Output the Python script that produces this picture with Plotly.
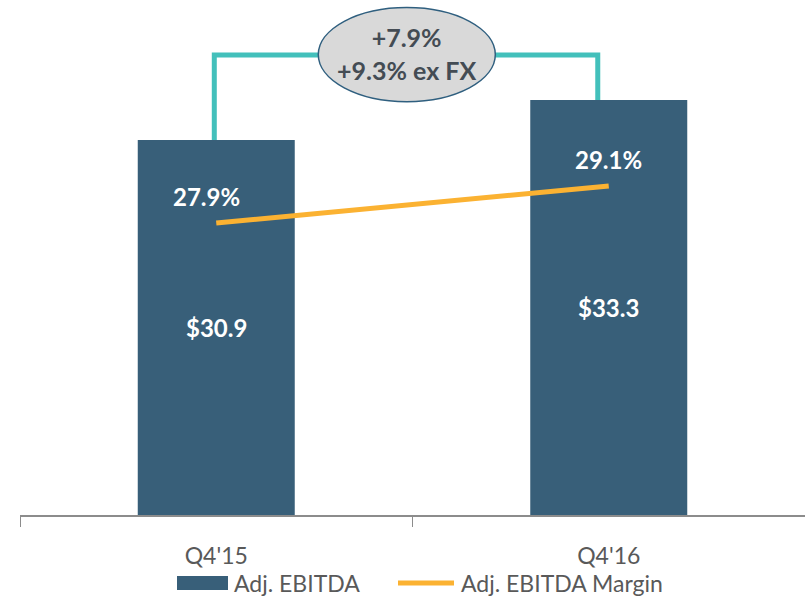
import plotly.graph_objects as go

# Quarterly figures
quarters = ["Q4'15", "Q4'16"]
adj_ebitda = [30.9, 33.3]          # $ millions
adj_ebitda_margin = [27.9, 29.1]   # percent
growth_text = ["+7.9%", "+9.3% ex FX"]
legend_labels = ["Adj. EBITDA", "Adj. EBITDA Margin"]

BAR_COLOR = "#385f79"
LINE_COLOR = "#fbb232"
BRACKET_COLOR = "#43c0bb"
TEXT_GREY = "#595959"
FONT = "Lato"

Y_RANGE = [8.4, 39.3]
Y2_RANGE = [18.42, 35.14]

fig = go.Figure()

fig.add_trace(go.Bar(
    x=quarters, y=adj_ebitda, name=legend_labels[0],
    marker=dict(color=BAR_COLOR, line=dict(width=0)),
    width=0.4, hoverinfo="skip", showlegend=False,
))

fig.add_trace(go.Scatter(
    x=quarters, y=adj_ebitda_margin, name=legend_labels[1],
    mode="lines", yaxis="y2",
    line=dict(color=LINE_COLOR, width=5),
    hoverinfo="skip", showlegend=False,
))

# Dollar labels centred in the visible part of each bar
for i, v in enumerate(adj_ebitda):
    fig.add_annotation(
        x=i, y=(Y_RANGE[0] + v) / 2, xref="x", yref="y", text=f"${v:.1f}",
        showarrow=False,
        font=dict(family=FONT, size=24, color="white", weight="bold"),
    )

# Margin labels above the line points
for i, m in enumerate(adj_ebitda_margin):
    fig.add_annotation(
        x=i, y=m, xref="x", yref="y2", text=f"{m:.1f}%",
        showarrow=False, yshift=27, xshift=-10 if i == 0 else 0,
        font=dict(family=FONT, size=24, color="white", weight="bold"),
    )

# Growth bracket connecting the two bars
bracket_top = 36.0
fig.add_shape(type="path",
              path=f"M -0.005,{adj_ebitda[0]} L -0.005,{bracket_top} L 0.972,{bracket_top} L 0.972,{adj_ebitda[1]}",
              xref="x", yref="y",
              line=dict(color=BRACKET_COLOR, width=5), layer="below")

# Growth bubble
fig.add_shape(type="circle", xref="x", yref="y",
              x0=0.26, x1=0.711, y0=33.2, y1=38.85,
              fillcolor="#d9d9d9", line=dict(color="#2f5f7f", width=1.5))
fig.add_annotation(
    x=0.4855, y=36.1, xref="x", yref="y",
    text="<br>".join(growth_text), showarrow=False,
    font=dict(family=FONT, size=25, color="#444c54", weight="bold"),
)

# Legend drawn in pixel-like paper coordinates below the axis
W, H = 805, 598
L, B = 20, 83
PW, PH = W - L, H - B


def px(xp):
    return (xp - L) / PW


def py(yp):
    return (H - B - yp) / PH


fig.add_shape(type="rect", xref="paper", yref="paper",
              x0=px(177), x1=px(228), y0=py(590), y1=py(576),
              fillcolor=BAR_COLOR, line=dict(width=0))
fig.add_annotation(x=px(232), y=py(583), xref="paper", yref="paper",
                   xanchor="left", yanchor="middle", showarrow=False,
                   text=legend_labels[0],
                   font=dict(family=FONT, size=23, color=TEXT_GREY))
fig.add_shape(type="line", xref="paper", yref="paper",
              x0=px(398), x1=px(454), y0=py(583), y1=py(583),
              line=dict(color=LINE_COLOR, width=5))
fig.add_annotation(x=px(459), y=py(583), xref="paper", yref="paper",
                   xanchor="left", yanchor="middle", showarrow=False,
                   text=legend_labels[1],
                   font=dict(family=FONT, size=23, color=TEXT_GREY))

fig.update_layout(
    width=W, height=H,
    margin=dict(l=L, r=0, t=0, b=B),
    paper_bgcolor="white", plot_bgcolor="white",
    font=dict(family=FONT, color=TEXT_GREY),
    showlegend=False,
    xaxis=dict(type="category", tickson="boundaries", ticks="outside", ticklen=10,
               tickcolor="#8c8c8c", showline=True, linecolor="#8c8c8c", linewidth=1.5,
               showgrid=False, tickfont=dict(family=FONT, size=23, color=TEXT_GREY),
               ticklabelstandoff=20, range=[-0.5, 1.5]),
    yaxis=dict(range=Y_RANGE, visible=False, showgrid=False),
    yaxis2=dict(range=Y2_RANGE, overlaying="y", visible=False, showgrid=False),
)

fig.write_html("out.html")
